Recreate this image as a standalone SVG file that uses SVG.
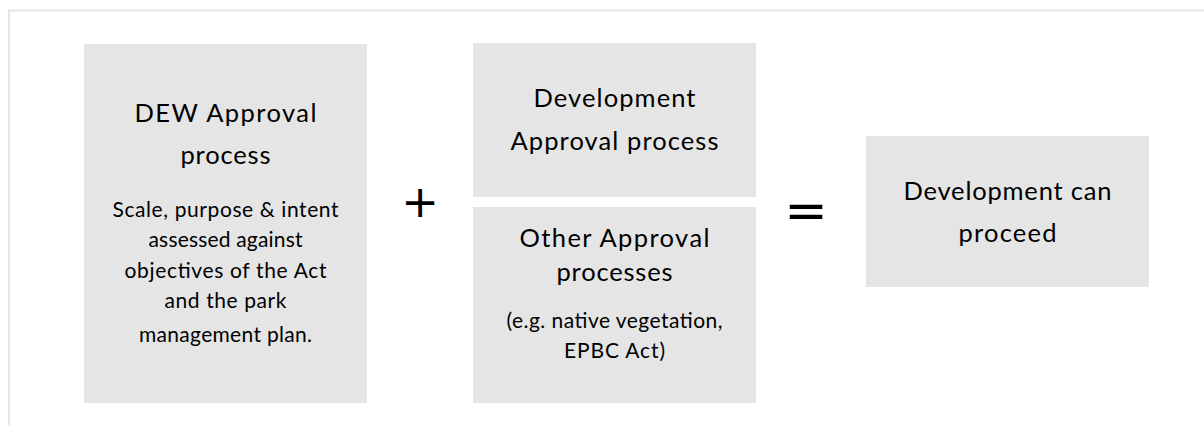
<svg xmlns="http://www.w3.org/2000/svg" width="1204" height="425" viewBox="0 0 1204 425">
  <style>
    .box { fill: #e5e5e5; }
    .title { font-family: Lato, "Noto Sans", "DejaVu Sans", sans-serif; font-size: 25.5px; fill: #000; text-anchor: middle; }
    .body { font-family: Lato, "Noto Sans", "DejaVu Sans", sans-serif; font-size: 21px; fill: #000; text-anchor: middle; }
    .op { font-family: "DejaVu Sans", sans-serif; fill: #000; text-anchor: middle; }
    .frame { stroke: #e6e6e6; stroke-width: 2; fill: none; }
  </style>
  <rect width="1204" height="425" fill="#ffffff"/>
  <path class="frame" d="M9,425 V10.5 H1204"/>

  <g id="dew-approval">
    <rect class="box" x="84" y="44" width="283" height="359"/>
    <text class="title" x="225.5" y="122" textLength="182" lengthAdjust="spacing">DEW Approval</text>
    <text class="title" x="225.5" y="164" textLength="90" lengthAdjust="spacing">process</text>
    <text class="body" x="225.5" y="216.7" textLength="226" lengthAdjust="spacing">Scale, purpose &amp; intent</text>
    <text class="body" x="225.5" y="246.7" textLength="154" lengthAdjust="spacing">assessed against</text>
    <text class="body" x="225.5" y="277.7" textLength="202" lengthAdjust="spacing">objectives of the Act</text>
    <text class="body" x="225.5" y="308.3" textLength="122" lengthAdjust="spacing">and the park</text>
    <text class="body" x="225.5" y="341.7" textLength="173" lengthAdjust="spacing">management plan.</text>
  </g>

  <g id="development-approval">
    <rect class="box" x="473" y="43" width="283" height="154"/>
    <text class="title" x="614.5" y="107" textLength="162" lengthAdjust="spacing">Development</text>
    <text class="title" x="614.5" y="150" textLength="208" lengthAdjust="spacing">Approval process</text>
  </g>

  <g id="other-approval">
    <rect class="box" x="473" y="207" width="283" height="196"/>
    <text class="title" x="614.5" y="246.7" textLength="190" lengthAdjust="spacing">Other Approval</text>
    <text class="title" x="614.5" y="281" textLength="116" lengthAdjust="spacing">processes</text>
    <text class="body" x="614.5" y="328.3" textLength="216" lengthAdjust="spacing">(e.g. native vegetation,</text>
    <text class="body" x="614.5" y="358.3" textLength="101" lengthAdjust="spacing">EPBC Act)</text>
  </g>

  <g id="development-proceed">
    <rect class="box" x="866" y="136" width="283" height="151"/>
    <text class="title" x="1007.5" y="200" textLength="208" lengthAdjust="spacing">Development can</text>
    <text class="title" x="1007.5" y="241.7" textLength="98" lengthAdjust="spacing">proceed</text>
  </g>

  <g id="operators">
    <text class="op" x="420" y="217" font-size="45">+</text>
    <text class="op" x="806" y="228" font-size="52">=</text>
  </g>

  <g id="connectors"></g>
</svg>
